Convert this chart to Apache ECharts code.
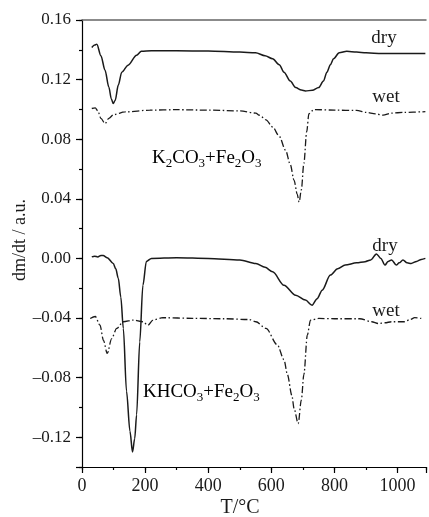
<!DOCTYPE html>
<html>
<head>
<meta charset="utf-8">
<script src="https://cdn.jsdelivr.net/npm/echarts@6/dist/echarts.min.js"></script>
<style>
html,body{margin:0;padding:0;background:#fff;}
#chart{width:429px;height:517px;}
</style>
</head>
<body>
<div id="chart"></div>
<script>
// K2CO3+Fe2O3, dry
const kDryT = [31, 40, 47, 60, 73, 85, 93, 99, 105, 115, 126, 146, 173, 188, 220, 300, 400, 500, 550, 580, 604, 625, 640, 660, 677, 695, 708, 730, 750, 765, 776, 787, 797, 815, 839, 870, 900, 950, 1000, 1050, 1088];
const kDryV = [0.1416, 0.1432, 0.1438, 0.136, 0.1263, 0.115, 0.107, 0.104, 0.106, 0.1163, 0.125, 0.1297, 0.1364, 0.139, 0.1393, 0.1393, 0.1392, 0.1385, 0.138, 0.136, 0.134, 0.130, 0.125, 0.119, 0.1147, 0.113, 0.1124, 0.1128, 0.1147, 0.119, 0.125, 0.130, 0.134, 0.138, 0.139, 0.1385, 0.138, 0.1375, 0.1375, 0.1375, 0.1375];
// K2CO3+Fe2O3, wet
const kWetT = [31, 42, 50, 60, 73, 85, 100, 136, 215, 300, 400, 500, 551, 562, 583, 604, 625, 645, 660, 672, 682, 688, 695, 703, 712, 719, 735, 800, 870, 900, 930, 954, 980, 1020, 1088];
const kWetV = [0.1006, 0.101, 0.099, 0.094, 0.0905, 0.094, 0.0965, 0.0983, 0.0995, 0.0998, 0.0995, 0.099, 0.0975, 0.0961, 0.093, 0.0882, 0.082, 0.0726, 0.063, 0.0524, 0.043, 0.0378, 0.046, 0.0638, 0.085, 0.0972, 0.0999, 0.0995, 0.0993, 0.098, 0.097, 0.0961, 0.0975, 0.098, 0.0985];
// KHCO3+Fe2O3, dry
const hDryT = [31, 40, 50, 60, 67, 80, 99, 107, 115, 123, 131, 141, 152, 160, 167, 173, 183, 193, 204, 220, 300, 400, 500, 551, 580, 604, 640, 677, 708, 729, 745, 761, 787, 810, 834, 870, 897, 915, 933, 947, 960, 970, 981, 996, 1005, 1017, 1030, 1043, 1060, 1075, 1088];
const hDryV = [0.001, 0.0015, 0.001, 0.002, 0.002, 0.0005, -0.0034, -0.007, -0.0134, -0.026, -0.047, -0.089, -0.116, -0.1299, -0.121, -0.105, -0.056, -0.018, -0.002, 0.000, 0.0005, 0.000, -0.001, -0.0034, -0.006, -0.009, -0.018, -0.0247, -0.028, -0.0314, -0.027, -0.0213, -0.0112, -0.007, -0.0045, -0.003, -0.0022, -0.001, 0.003, 0.000, -0.0045, -0.002, -0.001, -0.0045, -0.003, -0.001, -0.003, -0.0034, -0.002, -0.0007, 0.000];
// KHCO3+Fe2O3, wet
const hWetT = [26, 42, 57, 68, 80, 94, 110, 131, 162, 193, 209, 225, 256, 350, 450, 530, 551, 583, 619, 640, 651, 665, 672, 685, 695, 703, 714, 724, 750, 800, 880, 918, 939, 960, 981, 1022, 1040, 1054, 1075];
const hWetV = [-0.0403, -0.039, -0.0448, -0.055, -0.0638, -0.0538, -0.047, -0.0425, -0.0414, -0.0425, -0.0448, -0.0414, -0.0398, -0.0402, -0.0405, -0.041, -0.0425, -0.047, -0.058, -0.068, -0.078, -0.092, -0.1008, -0.1109, -0.095, -0.078, -0.0515, -0.0414, -0.0403, -0.0405, -0.0405, -0.0425, -0.0437, -0.0432, -0.0425, -0.0425, -0.041, -0.0398, -0.0403];

const xTickLabels = [0, 200, 400, 600, 800, 1000];
const yTickLabels = [-0.12, -0.08, -0.04, 0.00, 0.04, 0.08, 0.12, 0.16];

function pairs(t, v) { return t.map((x, i) => [x, v[i]]); }

const FONT = 'Liberation Serif';
const INK = '#1a1a1a';
const solid = { color: INK, width: 1.5, type: 'solid' };
const dashDot = { color: INK, width: 1.3, type: [7, 2.5, 1.5, 2.5] };

const chart = echarts.init(document.getElementById('chart'), null, { renderer: 'canvas' });

function lineSeries(t, v, style) {
  return {
    type: 'line', xAxisIndex: 0, yAxisIndex: 0,
    data: pairs(t, v), showSymbol: false, symbol: 'none',
    smooth: 0.3, smoothMonotone: 'x',
    lineStyle: style, silent: true, animation: false
  };
}

const rich = {
  n: { fontFamily: FONT, fontSize: 19, color: INK, lineHeight: 24, verticalAlign: 'middle' },
  s: { fontFamily: FONT, fontSize: 13, color: INK, lineHeight: 13, verticalAlign: 'bottom' }
};

function label(text, x, y, size) {
  return { type: 'text', x: x, y: y, silent: true,
    style: { text: text, fontFamily: FONT, fontSize: size, fill: INK, textAlign: 'center', textVerticalAlign: 'middle' } };
}

chart.setOption({
  animation: false,
  backgroundColor: '#fff',
  textStyle: { fontFamily: FONT },
  grid: { left: 82, top: 20, width: 347, height: 447, containLabel: false },
  xAxis: [
    {
      type: 'value', min: 0, max: 1090, interval: 200, position: 'bottom',
      axisLine: { show: true, onZero: false, lineStyle: { color: '#000', width: 1.2 } },
      axisTick: { show: true, length: 6, lineStyle: { color: '#000', width: 1.2 } },
      axisLabel: {
        fontFamily: FONT, fontSize: 18, color: INK, margin: 10,
        formatter: v => xTickLabels.indexOf(Math.round(v)) >= 0 && Math.abs(v - Math.round(v)) < 1e-6 ? String(Math.round(v)) : ''
      },
      splitLine: { show: false }
    },
    {
      type: 'value', min: 0, max: 1090, interval: 100, position: 'bottom',
      axisLine: { show: false, onZero: false },
      axisTick: { show: true, length: 3, lineStyle: { color: '#000', width: 1.2 } },
      axisLabel: { show: false }, splitLine: { show: false }
    },
    {
      type: 'value', min: 0, max: 1090, position: 'top',
      axisLine: { show: true, onZero: false, lineStyle: { color: '#666', width: 1.5 } },
      axisTick: { show: false }, axisLabel: { show: false }, splitLine: { show: false }
    }
  ],
  yAxis: [
    {
      type: 'value', min: -0.14, max: 0.16, interval: 0.02, position: 'left',
      axisLine: { show: true, onZero: false, lineStyle: { color: '#000', width: 1.2 } },
      axisTick: { show: true, length: 3, lineStyle: { color: '#000', width: 1.2 } },
      axisLabel: { show: false }, splitLine: { show: false }
    },
    {
      type: 'value', inverse: true, min: -0.16, max: 0.14, interval: 0.04, position: 'left',
      axisLine: { show: false, onZero: false },
      axisTick: { show: true, length: 6, lineStyle: { color: '#000', width: 1.2 } },
      axisLabel: {
        fontFamily: FONT, fontSize: 17, color: INK, margin: 11,
        formatter: v => {
          const r = -v;
          const hit = yTickLabels.find(t => Math.abs(t - r) < 1e-6);
          if (hit === undefined) return '';
          const s = Math.abs(hit).toFixed(2);
          return hit < -1e-9 ? '\u2013' + s : s;
        }
      },
      splitLine: { show: false }
    }
  ],
  series: [
    lineSeries(kDryT, kDryV, solid),
    lineSeries(kWetT, kWetV, dashDot),
    lineSeries(hDryT, hDryV, solid),
    lineSeries(hWetT, hWetV, dashDot)
  ],
  graphic: [
    Object.assign(label('dm/dt / a.u.', 20, 240, 18), { rotation: Math.PI / 2 }),
    label('T/°C', 240, 508, 20),
    label('dry', 384, 38, 19),
    label('wet', 386, 97, 19),
    label('dry', 385, 246, 19),
    label('wet', 386, 311, 19),
    { type: 'text', x: 152, y: 158, silent: true,
      style: { text: '{n|K}{s|2}{n|CO}{s|3}{n|+Fe}{s|2}{n|O}{s|3}', rich: rich, textVerticalAlign: 'middle' } },
    { type: 'text', x: 143, y: 392, silent: true,
      style: { text: '{n|KHCO}{s|3}{n|+Fe}{s|2}{n|O}{s|3}', rich: rich, textVerticalAlign: 'middle' } }
  ]
});
</script>
</body>
</html>
